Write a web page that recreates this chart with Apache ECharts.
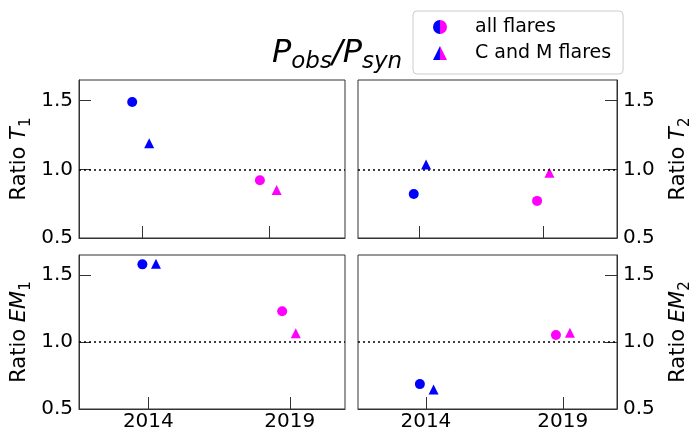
<!DOCTYPE html>
<html><head><meta charset="utf-8">
<script src="https://cdn.jsdelivr.net/npm/echarts@6/dist/echarts.min.js"></script>
<style>html,body{margin:0;padding:0;background:#fff}#c{width:694px;height:432px}</style>
</head><body><div id="c"></div>
<script>
// ---- data ----
const epochColors = ['#0000ff', '#ff00ff'];   // 2014 epoch, 2019 epoch
const xTicks = [2014, 2019];
const yTicks = [0.5, 1.0, 1.5];
const seriesNames = ['all flares', 'C and M flares'];

const yearT1_all = [2013.6, 2018.64];  const ratioT1_all = [1.49, 0.92];
const yearT1_CM  = [2014.27, 2019.3];  const ratioT1_CM  = [1.19, 0.85];
const yearT2_all = [2013.76, 2018.76]; const ratioT2_all = [0.82, 0.77];
const yearT2_CM  = [2014.26, 2019.26]; const ratioT2_CM  = [1.035, 0.975];
const yearEM1_all = [2013.79, 2018.73]; const ratioEM1_all = [1.58, 1.23];
const yearEM1_CM  = [2014.27, 2019.21]; const ratioEM1_CM  = [1.585, 1.065];
const yearEM2_all = [2013.78, 2018.75]; const ratioEM2_all = [0.686, 1.053];
const yearEM2_CM  = [2014.28, 2019.26]; const ratioEM2_CM  = [0.645, 1.07];

const panelLabels = [
  '{n|Ratio }{i|T}{s|1}', '{n|Ratio }{i|T}{s|2}',
  '{n|Ratio }{i|EM}{s|1}', '{n|Ratio }{i|EM}{s|2}'
];
const panelAll = [[yearT1_all, ratioT1_all],[yearT2_all, ratioT2_all],[yearEM1_all, ratioEM1_all],[yearEM2_all, ratioEM2_all]];
const panelCM  = [[yearT1_CM, ratioT1_CM],[yearT2_CM, ratioT2_CM],[yearEM1_CM, ratioEM1_CM],[yearEM2_CM, ratioEM2_CM]];
const xRanges = [[2011.5, 2022.0],[2011.5, 2022.0],[2011.55, 2020.95],[2011.52, 2020.98]];

// ---- layout ----
const FONT = 'DejaVu Sans';
const grids = [
  {left: 79, top: 80, width: 266, height: 158},
  {left: 358, top: 80, width: 267, height: 158},
  {left: 79, top: 255, width: 266, height: 158},
  {left: 358, top: 255, width: 267, height: 158}
];
const nameRich = {
  n: {fontSize: 21, fontFamily: FONT, color: '#000', lineHeight: 28},
  i: {fontSize: 21, fontFamily: FONT, fontStyle: 'italic', color: '#000', lineHeight: 28},
  s: {fontSize: 15, fontFamily: FONT, color: '#000', lineHeight: 16, verticalAlign: 'bottom'}
};

const xAxes = [], yAxes = [], series = [];
grids.forEach((g, k) => {
  const isBottom = k >= 2, isRight = k % 2 === 1;
  xAxes.push({
    type: 'value', gridIndex: k, min: xRanges[k][0], max: xRanges[k][1],
    axisLine: {show: true, lineStyle: {color: '#333', width: 1}},
    axisTick: {show: true, inside: true, length: 12, customValues: xTicks, lineStyle: {color: '#333'}},
    axisLabel: {show: isBottom, customValues: xTicks, margin: 3, fontSize: 20, fontFamily: FONT, color: '#000',
      formatter: v => String(v)},
    splitLine: {show: false}
  });
  yAxes.push({
    type: 'value', gridIndex: k, min: 0.5, max: 1.65,
    position: isRight ? 'right' : 'left',
    name: panelLabels[k], nameLocation: 'middle', nameRotate: 90,
    nameGap: isRight ? 48 : 45,
    nameTextStyle: {fontSize: 21, fontFamily: FONT, color: '#000', rich: nameRich},
    axisLine: {show: true, lineStyle: {color: '#333', width: 1}},
    axisTick: {show: true, inside: true, length: 12, customValues: yTicks, lineStyle: {color: '#333'}},
    axisLabel: {customValues: yTicks, margin: 6, fontSize: 20, fontFamily: FONT, color: '#000',
      formatter: v => v.toFixed(1)},
    splitLine: {show: false}
  });
  const [ax, ay] = panelAll[k];
  series.push({
    name: seriesNames[0], type: 'scatter', xAxisIndex: k, yAxisIndex: k,
    symbol: 'circle', symbolSize: 10,
    itemStyle: {opacity: 1},
    data: ax.map((x, j) => ({value: [x, ay[j]], itemStyle: {color: epochColors[j], opacity: 1}})),
    markLine: {silent: true, symbol: 'none', label: {show: false},
      lineStyle: {color: '#000', type: [2, 3], width: 1.5}, data: [{yAxis: 1}]},
    z: 3
  });
  const [cx, cy] = panelCM[k];
  series.push({
    name: seriesNames[1], type: 'scatter', xAxisIndex: k, yAxisIndex: k,
    symbol: 'triangle', symbolSize: 10,
    itemStyle: {opacity: 1},
    data: cx.map((x, j) => ({value: [x, cy[j]], itemStyle: {color: epochColors[j], opacity: 1}})),
    z: 3
  });
});

const split = {type: 'linear', x: 0, y: 0, x2: 1, y2: 0, colorStops: [
  {offset: 0, color: epochColors[0]}, {offset: 0.5, color: epochColors[0]},
  {offset: 0.5, color: epochColors[1]}, {offset: 1, color: epochColors[1]}]};

const chart = echarts.init(document.getElementById('c'), null, {renderer: 'canvas'});
chart.setOption({
  animation: false,
  backgroundColor: '#fff',
  title: {
    text: '{i|P}{s|obs}{i|/P}{s|syn}',
    left: 267, top: 29,
    textStyle: {fontWeight: 'normal', rich: {
      i: {fontSize: 32, fontFamily: FONT, fontStyle: 'italic', fontWeight: 'normal', color: '#000', lineHeight: 40},
      s: {fontSize: 23, fontFamily: FONT, fontStyle: 'italic', fontWeight: 'normal', color: '#000', lineHeight: 22, verticalAlign: 'bottom'}
    }}
  },
  legend: {
    orient: 'vertical', left: 413, top: 11,
    padding: [6, 12, 11, 20], itemGap: 6, itemWidth: 14, itemHeight: 14,
    borderColor: '#ccc', borderWidth: 1, borderRadius: 4, backgroundColor: '#fff',
    textStyle: {fontSize: 19, fontFamily: FONT, color: '#000', lineHeight: 20, padding: [0, 0, 0, 23]},
    data: [
      {name: seriesNames[0], icon: 'circle', itemStyle: {color: split, opacity: 1}},
      {name: seriesNames[1], icon: 'triangle', itemStyle: {color: split, opacity: 1}}
    ]
  },
  grid: grids.map(g => Object.assign({show: true, borderColor: '#333', borderWidth: 1, backgroundColor: 'transparent'}, g)),
  xAxis: xAxes, yAxis: yAxes, series
});
</script></body></html>
